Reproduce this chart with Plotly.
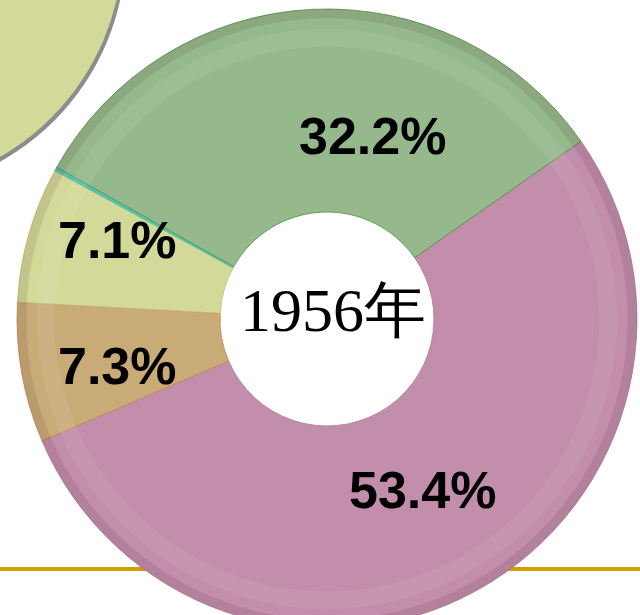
import plotly.graph_objects as go

# Dados do gráfico (participação por setor, 1956)
setores = ['粉', '褐', '黄', '青', '绿']
valores = [53.4, 7.3, 7.1, 0.2, 32.2]
rotulos = ['53.4%', '7.3%', '7.1%', '', '32.2%']
ano = '1956年'

cores = ['#c28eab', '#c9ab77', '#d3d998', '#52c2aa', '#95b98c']
cores_borda = ['#b07898', '#c08850', '#c2b860', '#52c2aa', '#4d9040']

# posições dos rótulos na página (x, y a partir do topo)
posicoes_rotulos = [(422, 490), (117, 366), (117, 240), None, (372, 136)]

LARGURA = 640
ALTURA = 640


def px_para_paper(x, y):
    """Converte pixels da página (origem no canto superior esquerdo) para coordenadas paper."""
    return x / LARGURA, 1 - y / ALTURA


def dominio(cx, cy, raio):
    """Domínio (paper) de um círculo dado em pixels."""
    x0, y_topo = px_para_paper(cx - raio, cy - raio)
    x1, y_base = px_para_paper(cx + raio, cy + raio)
    return dict(x=[x0, x1], y=[y_base, y_topo])


def criar_grafico_rosca() -> go.Figure:
    """
    Cria o gráfico de rosca com o ano no centro.

    Returns:
        go.Figure: Gráfico de rosca.
    """
    fig = go.Figure()

    # centro e raio da rosca na página
    cx, cy, raio = 327, 319, 310
    comuns = dict(labels=setores, values=valores, sort=False, direction='clockwise',
                  rotation=55, textinfo='none')

    fig.add_trace(go.Pie(
        hole=0.345,
        marker=dict(colors=cores, line=dict(color=cores_borda, width=0.8)),
        hoverinfo='label+percent',
        domain=dominio(cx, cy, raio),
        **comuns,
    ))

    # efeito de brilho: borda externa escura e faixa clara
    fig.add_trace(go.Pie(
        hole=0.97,
        marker=dict(colors=['rgba(60,20,40,0.10)'] * len(valores), line=dict(width=0)),
        hoverinfo='skip',
        domain=dominio(cx, cy, raio),
        **comuns,
    ))
    fig.add_trace(go.Pie(
        hole=0.94,
        marker=dict(colors=['rgba(255,255,255,0.08)'] * len(valores), line=dict(width=0)),
        hoverinfo='skip',
        domain=dominio(cx, cy, raio - 20),
        **comuns,
    ))

    # Círculo decorativo no canto superior esquerdo (sombra + círculo)
    for dx, dy, cor in [(3, 3, '#8c8c8c'), (0, 0, '#d3d998')]:
        a0, b0 = px_para_paper(-123 - 246 + dx, -56 - 246 + dy)
        a1, b1 = px_para_paper(-123 + 246 + dx, -56 + 246 + dy)
        fig.add_shape(type='circle', xref='paper', yref='paper',
                      x0=a0, y0=b1, x1=a1, y1=b0,
                      fillcolor=cor, line=dict(width=0), layer='below')

    # Linha dourada horizontal
    _, y_linha = px_para_paper(0, 569)
    fig.add_shape(type='line', xref='paper', yref='paper',
                  x0=0, x1=1, y0=y_linha, y1=y_linha,
                  line=dict(color='#d19f00', width=4), layer='below')

    # Rótulos de porcentagem
    for texto, pos in zip(rotulos, posicoes_rotulos):
        if pos is None:
            continue
        x, y = px_para_paper(*pos)
        fig.add_annotation(x=x, y=y, xref='paper', yref='paper', text=f'<b>{texto}</b>',
                           showarrow=False, xanchor='center', yanchor='middle',
                           font=dict(family='Liberation Sans, Arial', size=52, color='black'))

    # Ano no centro
    x, y = px_para_paper(333, 310)
    fig.add_annotation(x=x, y=y, xref='paper', yref='paper', text=ano,
                       showarrow=False, xanchor='center', yanchor='middle',
                       font=dict(family='Liberation Serif, Times New Roman, serif', size=62, color='black'))

    fig.update_layout(
        width=LARGURA,
        height=ALTURA,
        margin=dict(l=0, r=0, t=0, b=0),
        paper_bgcolor='white',
        plot_bgcolor='white',
        showlegend=False,
    )
    return fig


fig = criar_grafico_rosca()
# remove a margem padrão da página para o gráfico começar no canto
fig.write_html("out.html", config={'displayModeBar': False},
               post_script="document.body.style.margin='0';document.body.style.overflow='hidden';")
